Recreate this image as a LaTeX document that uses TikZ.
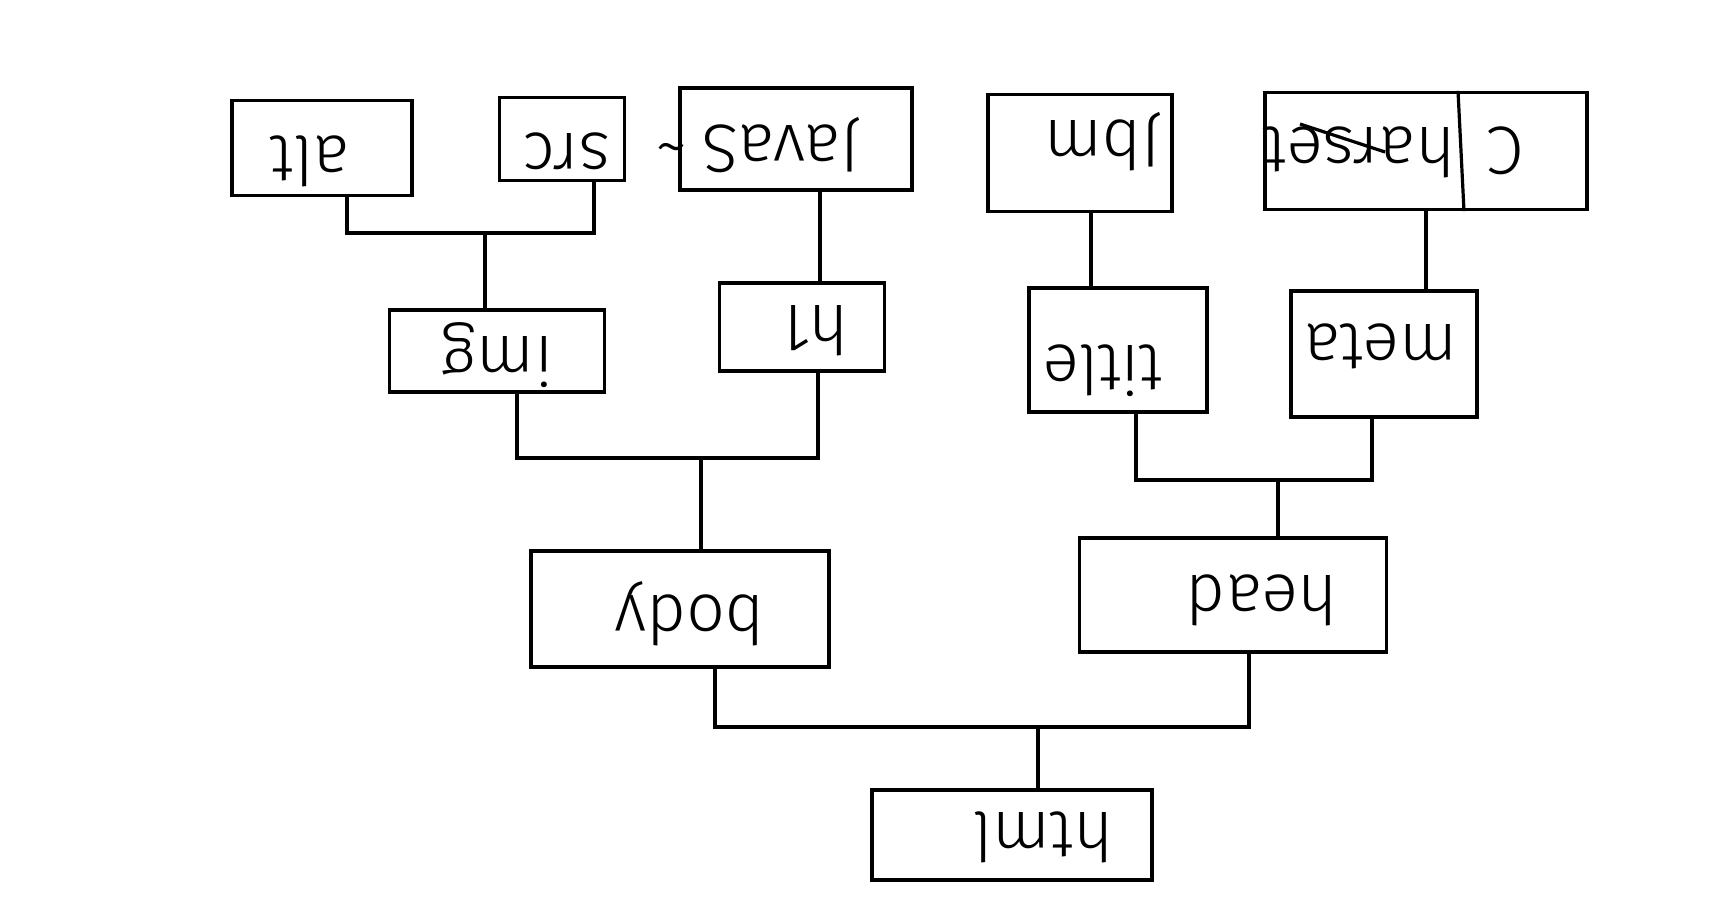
\documentclass[tikz,border=0pt]{standalone}
\usepackage{fontspec}
\setmainfont{Fira Sans}[UprightFont={* Light}]
\usetikzlibrary{calc}
\tikzset{
	box/.style={draw, line width=1.6pt, inner sep=0pt},
	word/.style={rotate=180, inner sep=0pt, font=\fontsize{34}{40}\selectfont},
	wire/.style={line width=1.6pt},
}

\begin{document}
\begin{tikzpicture}[x=0.5pt, y=-0.5pt]
			%%%%% START %%%%%
			\useasboundingbox (0, 0) rectangle (1710, 899);
			
			\node[box, minimum width=90pt, minimum height=47.5pt] (alt) at (322, 148) {};
			\node[word] (alt-t) at (310, 161) {alt};
			\node[box, minimum width=62.5pt, minimum height=41.5pt] (src) at (562, 139) {};
			\node[word] (src-t) at (567, 151) {src};
			\node[box, minimum width=116pt, minimum height=51pt] (java) at (796, 139) {};
			\node[word] (java-t) at (758, 145) {JavaS\kern7pt\textasciitilde};
			\node[box, minimum width=92pt, minimum height=58.5pt] (jbm) at (1080, 153) {};
			\node[word] (jbm-t) at (1103, 142) {Jbm};
			\node[box, minimum width=161pt, minimum height=58.5pt] (charset) at (1426, 151) {};
			\node[word] (charset-t) at (1394, 152) {C\hspace{16pt}harset};
			\draw[wire] ([xshift=16pt]charset.north) -- ([xshift=19pt]charset.south);
			\draw[wire] (1300, 124) -- (1385, 152);
			
			\node[box, minimum width=107.5pt, minimum height=41pt] (img) at (497, 351) {};
			\node[word] (img-t) at (498, 355) {img};
			\node[box, minimum width=82.5pt, minimum height=44pt] (h1) at (802, 327) {};
			\node[word] (h1-t) at (816, 331) {h1};
			\node[box, minimum width=89pt, minimum height=62pt] (title) at (1118, 350) {};
			\node[word] (title-t) at (1103, 371) {title};
			\node[box, minimum width=93pt, minimum height=63pt] (meta) at (1384, 354) {};
			\node[word] (meta-t) at (1381, 346) {meta};
			
			\node[box, minimum width=149pt, minimum height=58pt] (body) at (680, 609) {};
			\node[word] (body-t) at (690, 614) {body};
			\node[box, minimum width=153.5pt, minimum height=57pt] (head) at (1233, 595) {};
			\node[word] (head-t) at (1262, 600) {head};
			
			\node[box, minimum width=140pt, minimum height=45pt] (html) at (1012, 835) {};
			\node[word] (html-t) at (1043, 837) {html};
			
			% joins
			\coordinate (imgbar) at (485, 233);
			\draw[wire] ([xshift=12.5pt]alt.south) |- (imgbar) -| ([xshift=16pt]src.south);
			\draw[wire] (imgbar) -- (imgbar |- img.north);
			
			\draw[wire] ([xshift=12pt]java.south) coordinate (h1drop) -- (h1drop |- h1.north);
			
			\coordinate (bodybar) at (701, 458);
			\draw[wire] ([xshift=10pt]img.south) |- (bodybar) -| ([xshift=8pt]h1.south);
			\draw[wire] (bodybar) -- (bodybar |- body.north);
			
			\draw[wire] ([xshift=5.5pt]jbm.south) coordinate (titledrop) -- (titledrop |- title.north);
			\draw[wire] (charset.south) -- (charset.south |- meta.north);
			
			\coordinate (headbar) at (1278, 480);
			\draw[wire] ([xshift=9pt]title.south) |- (headbar) -| ([xshift=-6pt]meta.south);
			\draw[wire] (headbar) -- (headbar |- head.north);
			
			\coordinate (htmlbar) at (1038, 727);
			\draw[wire] ([xshift=17.5pt]body.south) |- (htmlbar) -| ([xshift=8pt]head.south);
			\draw[wire] (htmlbar) -- (htmlbar |- html.north);
			%%%%% END %%%%%
\end{tikzpicture}
\end{document}
